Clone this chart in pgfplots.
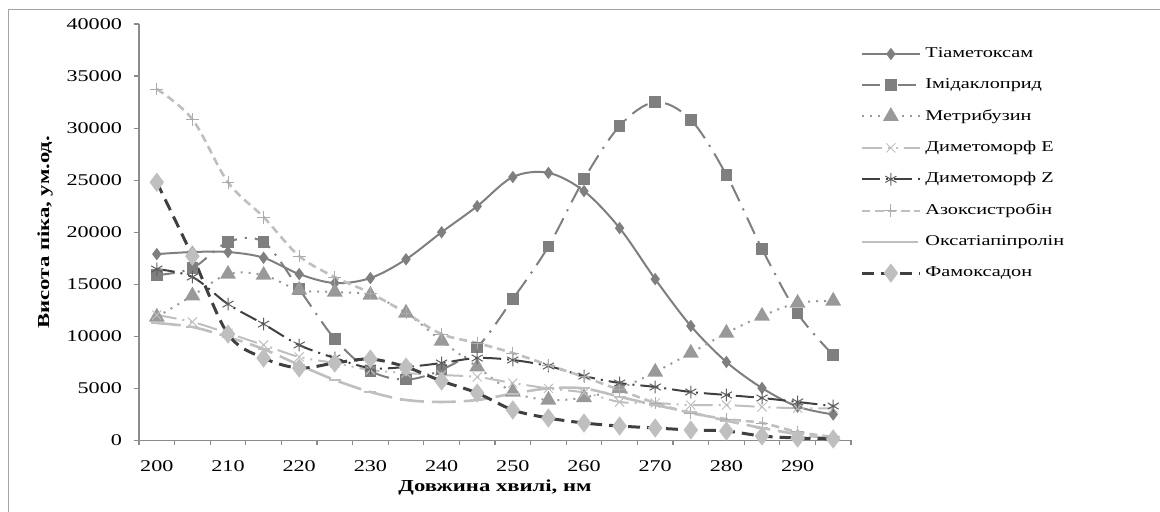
\documentclass[border=0pt]{standalone}
\usepackage{fontspec}
\setmainfont{Liberation Serif}[FakeStretch=1.35]
\usepackage{pgfplots}
\pgfplotsset{compat=1.18}
\usetikzlibrary{plotmarks}
\definecolor{dgray}{HTML}{7F7F7F}
\definecolor{mgray}{HTML}{999999}
\definecolor{lgray}{HTML}{BFBFBF}
\definecolor{xgray}{HTML}{404040}
\definecolor{axisgray}{HTML}{8C8C8C}
\begin{document}
\begin{tikzpicture}[x=1pt,y=1pt]
\useasboundingbox (0,0) rectangle (580,256);
\draw[color=axisgray!80, line width=0.5pt] (4,0) -- (4,251) -- (580,251);
\begin{axis}[
  at={(69.5pt,35.75pt)}, anchor=south west,
  scale only axis, width=356pt, height=208.25pt,
  xmin=197.5, xmax=297.5, ymin=0, ymax=40000,
  axis lines*=left,
  axis line style={color=axisgray, line width=0.6pt},
  xtick={200,210,...,290},
  minor xtick={197.5,202.5,...,297.5},
  ytick={0,5000,...,40000},
  major x tick style={draw=none},
  tick style={color=axisgray, line width=0.6pt},
  tick align=outside,
  major tick length=2.5pt, minor tick length=2.5pt,
  tick label style={font=\fontsize{8.2}{9.8}\selectfont, color=black},
  /pgf/number format/assume math mode=true,
  /pgf/number format/1000 sep={},
  scaled y ticks=false,
  xticklabel style={yshift=-4pt},
  yticklabel style={xshift=-2.5pt},
  xlabel={\textbf{Довжина хвилі, нм}},
  ylabel={\textbf{Висота піка, ум.од.}},
  label style={font=\fontsize{8.4}{10}\selectfont},
  xlabel style={at={(axis description cs:0.5,0)}, yshift=-23.25pt, anchor=center},
  ylabel style={at={(axis description cs:-0.132,0.5)}, anchor=center},
  legend style={at={(axis description cs:1.0126,0.954)}, anchor=north west, draw=none, fill=none,
    font=\fontsize{7.5}{9}\selectfont, row sep=5pt, inner sep=0pt},
  legend cell align=left,
  legend image code/.code={\draw[mark repeat=2,mark phase=2,#1] plot coordinates {(0pt,0pt) (14.5pt,0pt) (29pt,0pt)};},
  every axis plot/.append style={smooth, tension=0.55},
  clip=false,
]
% Тіаметоксам
\addplot[color=dgray, line width=1pt, mark=diamond*, mark size=2.3pt, mark options={fill=dgray, draw=dgray, solid}] coordinates {
(200,17900) (205,18100) (210,18100) (215,17550) (220,15980) (225,15120) (230,15600) (235,17400) (240,20000) (245,22500)
(250,25300) (255,25700) (260,23950) (265,20400) (270,15500) (275,11000) (280,7540) (285,5040) (290,3250) (295,2500)};
\addlegendentry{Тіаметоксам}
% Імідаклоприд
\addplot[color=dgray, line width=1pt, dash pattern=on 9pt off 4pt on 1pt off 4pt, mark=square*, mark size=2.4pt, mark options={fill=dgray, draw=dgray, solid}] coordinates {
(200,15880) (205,16560) (210,19060) (215,19050) (220,14530) (225,9750) (230,6700) (235,5850) (240,6800) (245,8950)
(250,13580) (255,18640) (260,25100) (265,30200) (270,32500) (275,30800) (280,25500) (285,18400) (290,12200) (295,8200)};
\addlegendentry{Імідаклоприд}
% Метрибузин
\addplot[color=mgray, line width=1pt, dash pattern=on 1pt off 3pt, mark=triangle*, mark size=3.6pt, mark options={fill=mgray, draw=mgray, solid}] coordinates {
(200,11860) (205,13900) (210,15980) (215,15880) (220,14450) (225,14260) (230,13970) (235,12250) (240,9560) (245,7070)
(250,4660) (255,3890) (260,4130) (265,5000) (270,6580) (275,8400) (280,10320) (285,11950) (290,13200) (295,13400)};
\addlegendentry{Метрибузин}
% Диметоморф E
\addplot[color=lgray, line width=1pt, dash pattern=on 10pt off 3pt on 1pt off 3pt on 1pt off 3pt, mark=x, mark size=3.2pt, mark options={draw=lgray, solid, line width=0.5pt}] coordinates {
(200,12050) (205,11380) (210,10300) (215,9170) (220,8020) (225,7440) (230,6770) (235,6480) (240,6290) (245,6100)
(250,5520) (255,5000) (260,4600) (265,3700) (270,3600) (275,3400) (280,3400) (285,3220) (290,3100) (295,3100)};
\addlegendentry{Диметоморф E}
% Диметоморф Z
\addplot[color=xgray, line width=1pt, dash pattern=on 9pt off 3pt on 1pt off 3pt, mark=asterisk, mark size=3.2pt, mark options={draw=xgray!85, solid, line width=0.5pt}] coordinates {
(200,16460) (205,15700) (210,13100) (215,11180) (220,9170) (225,7920) (230,6960) (235,7060) (240,7440) (245,7920)
(250,7730) (255,7150) (260,6190) (265,5520) (270,5140) (275,4660) (280,4370) (285,4080) (290,3700) (295,3310)};
\addlegendentry{Диметоморф Z}
% Азоксистробін
\addplot[color=lgray, line width=1.3pt, dash pattern=on 4pt off 2.5pt, mark=+, mark size=3.2pt, mark options={draw=lgray!90!black, solid, line width=0.5pt}] coordinates {
(200,33750) (205,30850) (210,24800) (215,21450) (220,17710) (225,15700) (230,14160) (235,12240) (240,10220) (245,9360)
(250,8400) (255,7250) (260,6100) (265,4850) (270,3600) (275,2640) (280,2060) (285,1680) (290,820) (295,340)};
\addlegendentry{Азоксистробін}
% Оксатіапіпролін
\addplot[color=lgray, line width=1.3pt, dash pattern=on 12pt off 4pt, mark=-, mark size=3pt, mark options={draw=lgray, solid, line width=1pt}] coordinates {
(200,11280) (205,10900) (210,9940) (215,8780) (220,7250) (225,5810) (230,4660) (235,3890) (240,3700) (245,3890)
(250,4500) (255,5000) (260,5000) (265,4200) (270,3400) (275,2700) (280,1900) (285,1200) (290,600) (295,150)};
\addlegendentry{Оксатіапіпролін}
% Фамоксадон
\addplot[color=xgray, line width=1.5pt, dash pattern=on 6pt off 3.5pt, mark=diamond*, mark size=3.6pt, mark options={fill=lgray, draw=lgray, solid}] coordinates {
(200,24800) (205,17710) (210,10220) (215,7920) (220,6960) (225,7440) (230,7820) (235,7060) (240,5710) (245,4560)
(250,2930) (255,2160) (260,1680) (265,1390) (270,1200) (275,1010) (280,910) (285,430) (290,240) (295,150)};
\addlegendentry{Фамоксадон}
\end{axis}
\end{tikzpicture}
\end{document}
